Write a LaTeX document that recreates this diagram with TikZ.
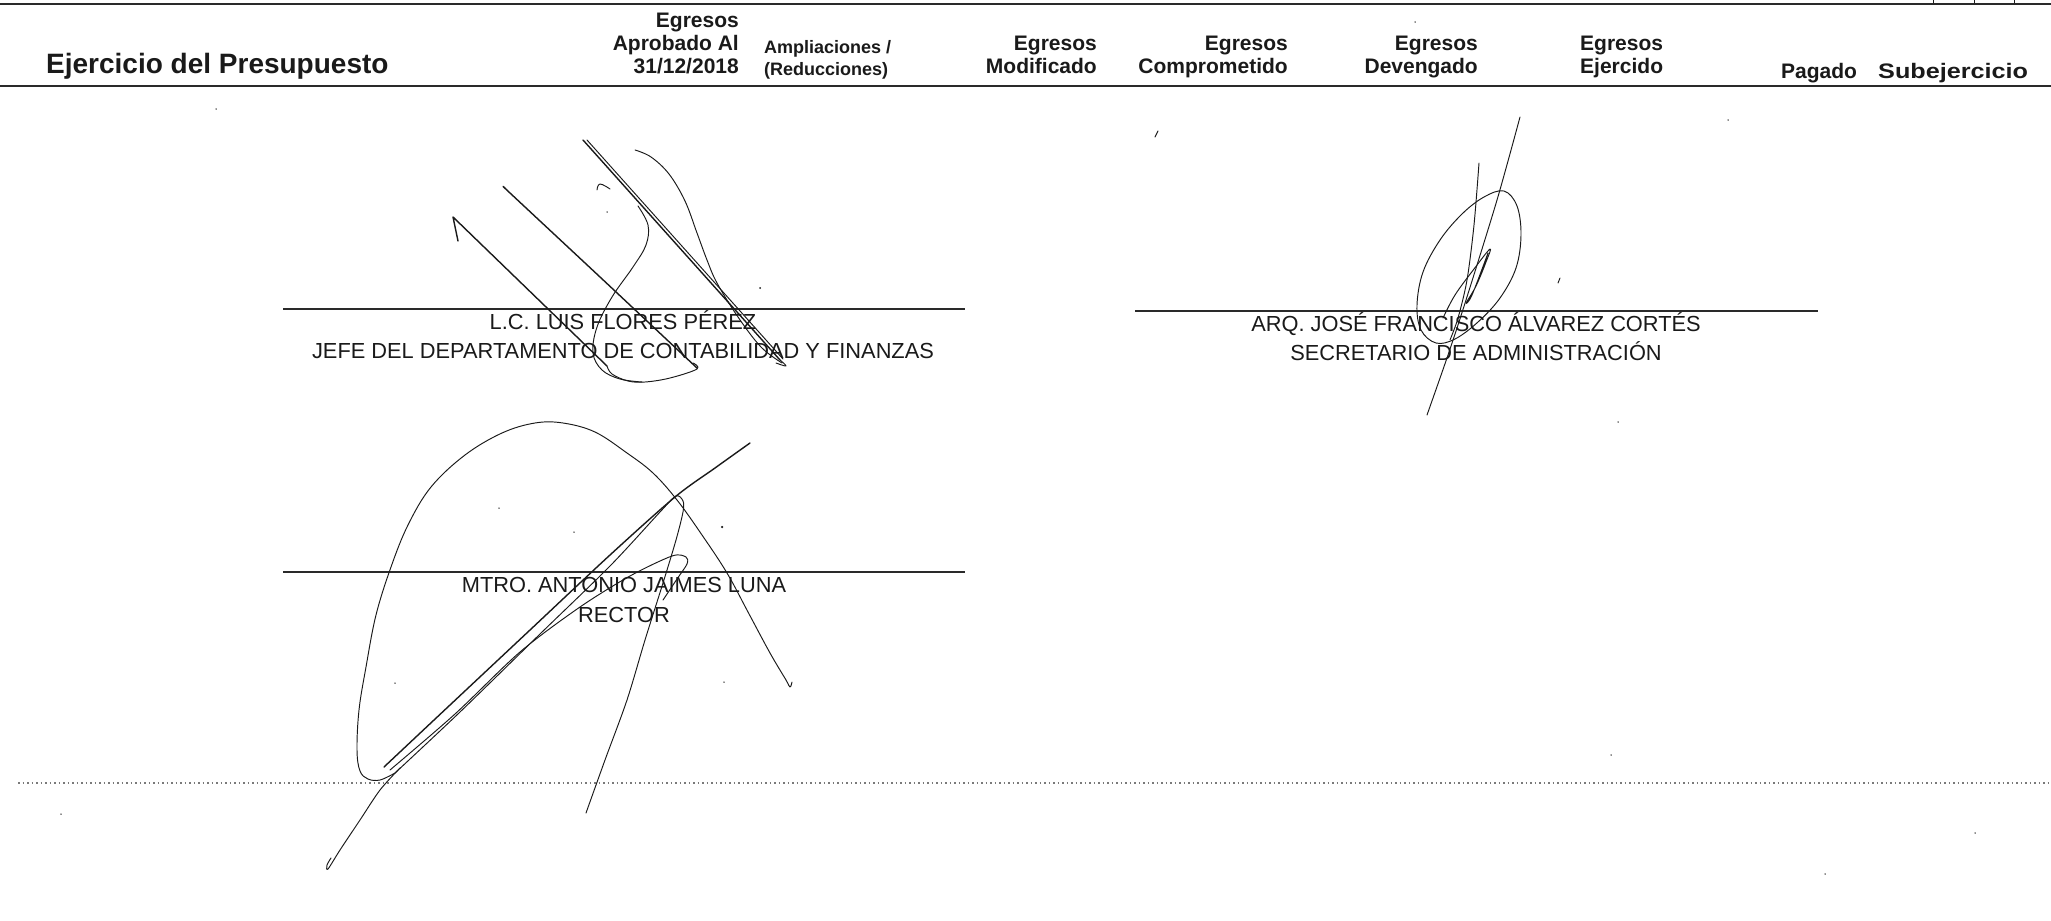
\documentclass[tikz,border=0pt]{standalone}
\usepackage{fontspec}
\setmainfont{Liberation Sans}
\definecolor{ink}{HTML}{1A1A1A}
\definecolor{rule}{HTML}{2A2A2A}
\definecolor{dotgray}{HTML}{7A7A7A}
\begin{document}
\begin{tikzpicture}[x=1pt,y=-1pt,
  hdr/.style={font=\fontsize{21}{25}\selectfont\bfseries, inner sep=0pt, text=ink},
  hdrsmall/.style={font=\fontsize{18}{21}\selectfont\bfseries, inner sep=0pt, text=ink},
  title/.style={font=\fontsize{28}{32}\selectfont\bfseries, inner sep=0pt, text=ink},
  sigtext/.style={font=\fontsize{21.8}{26}\selectfont, inner sep=0pt, text=ink},
  hrule/.style={draw=rule, line width=1.8pt},
  sigline/.style={draw=rule, line width=1.5pt},
  pen/.style={draw=ink, line width=1.4pt, line cap=round, line join=round},
  thinpen/.style={draw=ink, line width=0.95pt, line cap=round, line join=round},
  speck/.style={fill=ink, inner sep=0pt, minimum size=2pt, circle}]
\useasboundingbox (0,0) rectangle (2051,921);
\fill[white] (0,0) rectangle (2051,921);

% ---------- header rules ----------
\coordinate (tL) at (0,4);  \coordinate (tR) at (2051,4);
\coordinate (bL) at (0,86); \coordinate (bR) at (2051,86);
\draw[hrule] (tL) -- (tR);
\draw[hrule] (bL) -- (bR);
% fragments above the top rule
\coordinate (f1a) at (1933,0); \coordinate (f1b) at (1933,3);
\coordinate (f2a) at (1974,0); \coordinate (f2b) at (1974,3);
\coordinate (f3a) at (2014,0); \coordinate (f3b) at (2014,3);
\draw[thinpen] (f1a) -- (f1b); \draw[thinpen] (f2a) -- (f2b); \draw[thinpen] (f3a) -- (f3b);

% ---------- header texts ----------
\node[title, anchor=base west] (ttl) at (46,73) {Ejercicio del Presupuesto};
\node[hdr, anchor=base east] (c1a) at (739,27) {Egresos};
\node[hdr, anchor=base east] (c1b) at (739,50) {Aprobado Al};
\node[hdr, anchor=base east] (c1c) at (739,73) {31/12/2018};
\node[hdrsmall, anchor=base west] (c2a) at (764,53) {Ampliaciones /};
\node[hdrsmall, anchor=base west] (c2b) at (764,75) {(Reducciones)};
\node[hdr, anchor=base east] (c3a) at (1097,50) {Egresos};
\node[hdr, anchor=base east] (c3b) at (1097,73) {Modificado};
\node[hdr, anchor=base east] (c4a) at (1288,50) {Egresos};
\node[hdr, anchor=base east] (c4b) at (1288,73) {Comprometido};
\node[hdr, anchor=base east] (c5a) at (1478,50) {Egresos};
\node[hdr, anchor=base east] (c5b) at (1478,73) {Devengado};
\node[hdr, anchor=base west] (c6a) at (1580,50) {Egresos};
\node[hdr, anchor=base west] (c6b) at (1580,73) {Ejercido};
\node[hdr, anchor=base west] (c7) at (1781,78) {Pagado};
\node[hdr, anchor=base west] (c8) at (1878,78) {\scalebox{1.2}[1]{Subejercicio}};

% ---------- signature lines ----------
\coordinate (s1L) at (283,309);  \coordinate (s1R) at (965,309);
\coordinate (s2L) at (1135,311); \coordinate (s2R) at (1818,311);
\coordinate (s3L) at (283,572);  \coordinate (s3R) at (965,572);
\draw[sigline] (s1L) -- (s1R);
\draw[sigline] (s2L) -- (s2R);
\draw[sigline] (s3L) -- (s3R);

\node[sigtext, anchor=base] (n1) at (623,329) {L.C. LUIS FLORES PÉREZ};
\node[sigtext, anchor=base] (p1) at (623,358) {JEFE DEL DEPARTAMENTO DE CONTABILIDAD Y FINANZAS};
\node[sigtext, anchor=base] (n2) at (1476,331) {ARQ. JOSÉ FRANCISCO ÁLVAREZ CORTÉS};
\node[sigtext, anchor=base] (p2) at (1476,360) {SECRETARIO DE ADMINISTRACIÓN};
\node[sigtext, anchor=base] (n3) at (624,592) {MTRO. ANTONIO JAIMES LUNA};
\node[sigtext, anchor=base] (p3) at (624,622) {RECTOR};

% ---------- dotted rule ----------
\coordinate (dL) at (18,783); \coordinate (dR) at (2051,783);
\draw[dotgray, line width=1.1pt, dash pattern=on 1.5pt off 3pt] (dL) -- (dR);

% ---------- signature 1 ----------
\draw[pen] (458,241) -- (453,217) -- (607,366);
\draw[thinpen] plot[smooth, tension=0.6] coordinates {(607,366) (612,374) (628,381) (645,382) (670,378) (697,369) (693,363)};
\draw[pen] plot[smooth, tension=0.5] coordinates {(506,189) (510,193) (600,277) (697,368)};
\draw[thinpen] plot[smooth, tension=0.7] coordinates {(597,190) (600,184) (610,189)};
\draw[thinpen] plot[smooth, tension=0.6] coordinates {(638,206) (648,225) (646,245) (633,267) (612,297) (597,327) (593,353) (602,370) (620,379) (642,382)};
\draw[pen] (583,140) -- (780,360);
\draw[thinpen] (587,140) -- (783,359);
\draw[thinpen] plot[smooth, tension=0.6] coordinates {(780,360) (786,366) (776,363)};
\draw[thinpen] plot[smooth, tension=0.6] coordinates {(635,150) (651,157) (669,174) (685,201) (697,233) (707,260) (717,283) (738,317) (761,347) (782,363)};
\node[speck] (d1) at (760,288) {};
\node[speck, minimum size=1.5pt] (d2) at (607,212) {};
\node[speck, minimum size=1.5pt] (d3) at (216,109) {};

% ---------- signature 2 ----------
\draw[thinpen] plot[smooth, tension=0.5] coordinates {(1520,117) (1497,200) (1466,300) (1448,355) (1427,415)};
\draw[thinpen] plot[smooth, tension=0.5] coordinates {(1479,163) (1474,225) (1467,280) (1458,318) (1450,340)};
\draw[thinpen] plot[smooth cycle, tension=0.6] coordinates {(1504,191) (1517,206) (1521,235) (1516,268) (1500,298) (1478,322) (1455,339) (1436,343) (1421,330) (1417,305) (1423,272) (1440,240) (1462,214) (1484,197)};
\draw[thinpen] plot[smooth, tension=0.6] coordinates {(1443,318) (1455,295) (1474,269) (1490,249) (1486,262) (1476,286) (1466,303) (1472,295) (1488,253)};
\draw[thinpen] (1155,137) -- (1158,131);
\draw[thinpen] (1558,283) -- (1560,278);
\node[speck, minimum size=1.5pt] (d4) at (1728,120) {};
\node[speck, minimum size=1.5pt] (d5) at (1618,422) {};
\node[speck, minimum size=1.5pt] (d6) at (1415,22) {};
\node[speck, minimum size=1.5pt] (d7) at (1611,755) {};
\node[speck, minimum size=1.5pt] (d8) at (1975,833) {};
\node[speck, minimum size=1.5pt] (d9) at (61,814) {};
\node[speck, minimum size=1.5pt] (d10) at (1825,874) {};

% ---------- signature 3 ----------
\draw[thinpen] plot[smooth, tension=0.6] coordinates {(792,682) (790,687) (786,680) (770,653) (748,612) (727,573) (702,535) (677,500) (653,473) (627,453) (595,432) (563,423) (535,423) (502,433) (465,455) (431,487) (408,525) (391,567) (376,615) (366,667) (359,710) (357,750) (360,771) (368,779) (380,780) (395,773)};
\draw[pen] plot[smooth, tension=0.5] coordinates {(384,767) (450,705) (530,630) (610,555) (675,497) (715,468) (750,443)};
\draw[thinpen] plot[smooth, tension=0.5] coordinates {(395,773) (460,712) (540,634) (610,566) (660,512) (676,496) (683,501) (683,512) (676,540) (663,583) (645,640) (627,700) (605,760) (586,813)};
\draw[thinpen] plot[smooth, tension=0.5] coordinates {(390,770) (455,714) (520,652) (580,607) (630,576) (672,556) (686,557) (687,564) (677,579) (663,600)};
\draw[thinpen] plot[smooth, tension=0.5] coordinates {(400,768) (380,790) (360,820) (340,850) (328,869) (327,865) (331,858)};
\node[speck, minimum size=2.5pt] (d11) at (722,527) {};
\node[speck, minimum size=1.5pt] (d12) at (499,508) {};
\node[speck, minimum size=1.5pt] (d13) at (574,532) {};
\node[speck, minimum size=1.5pt] (d14) at (395,683) {};
\node[speck, minimum size=1.5pt] (d15) at (724,682) {};
\end{tikzpicture}
\end{document}
